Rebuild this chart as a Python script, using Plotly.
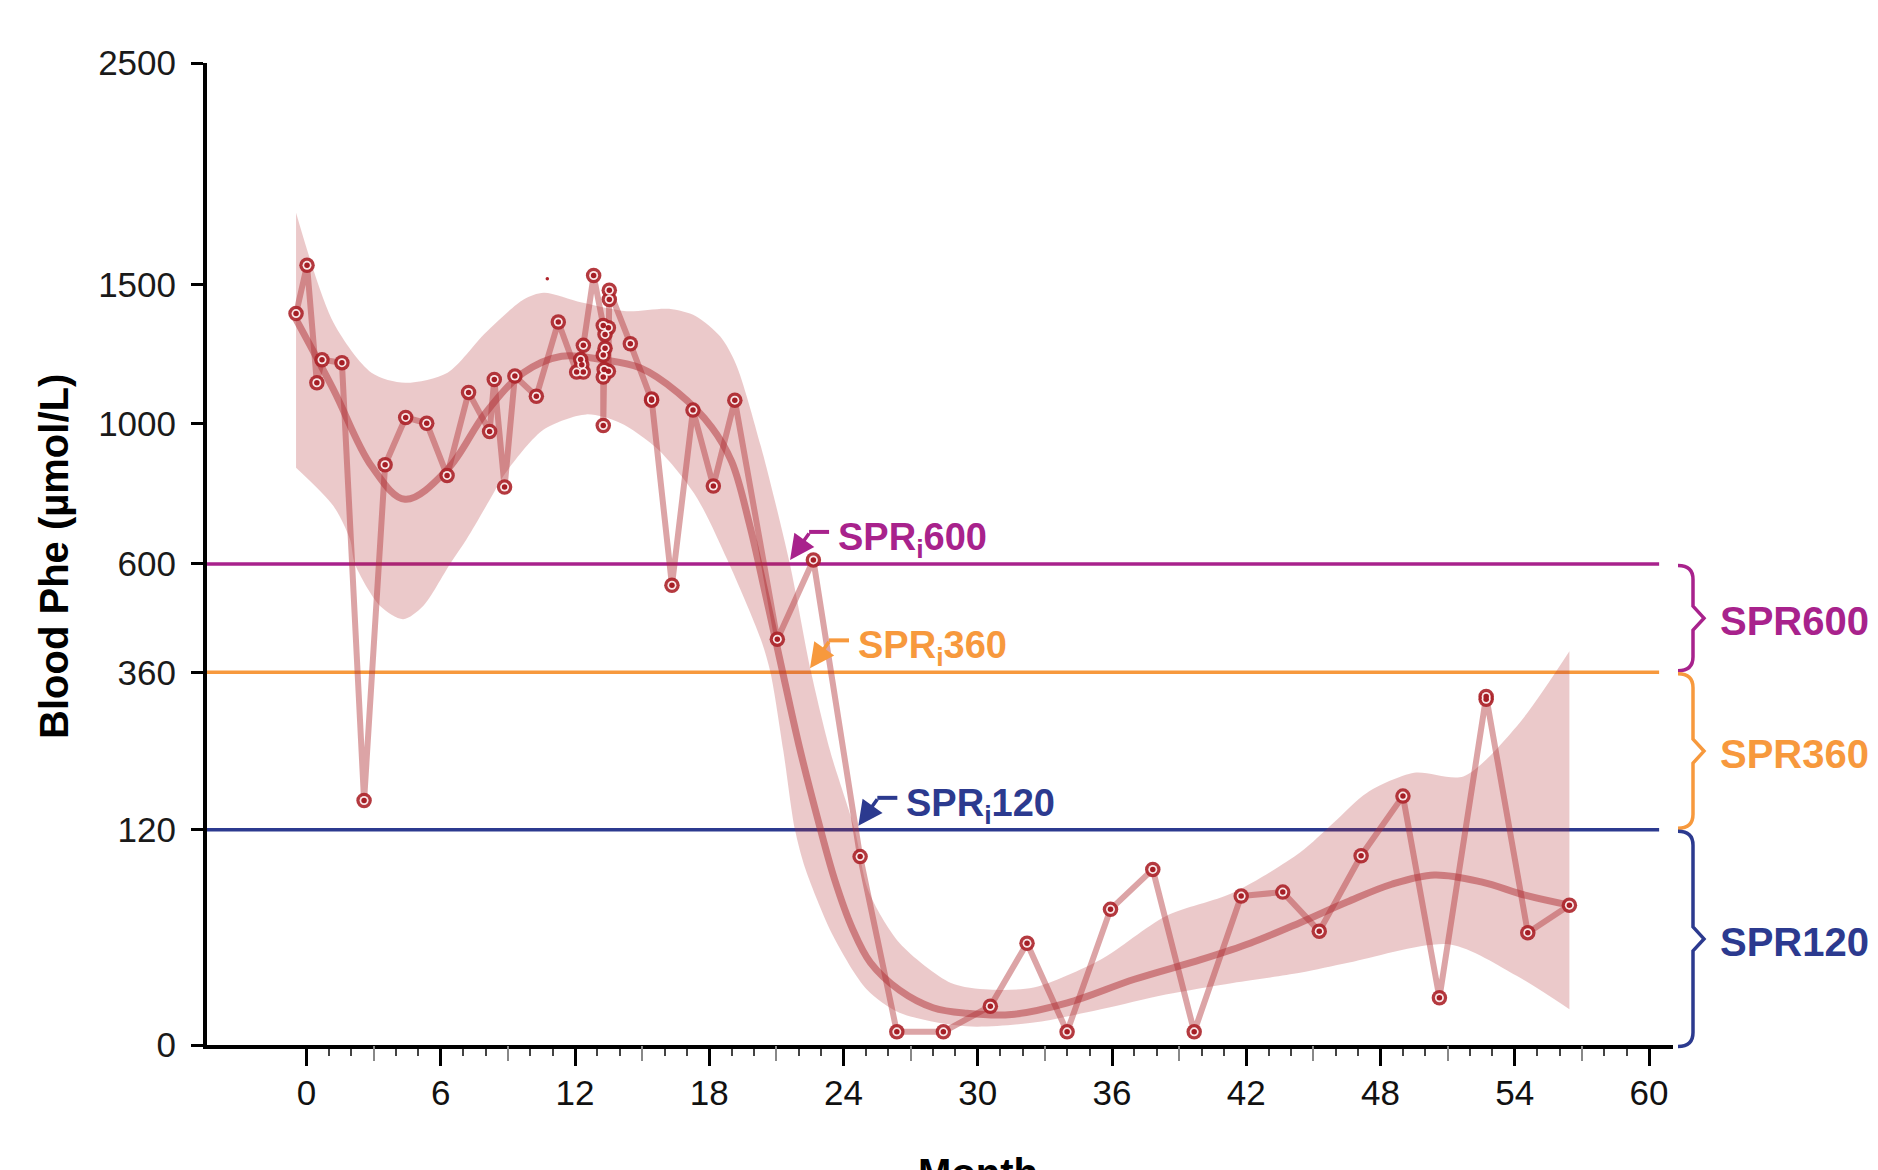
import numpy as np
import plotly.graph_objects as go

# ---------------- data ----------------
# observed blood Phe (umol/L) by month, in time order
obs_month = [-0.47, 0.02, 0.46, 0.69, 1.58, 2.57, 3.51, 4.43, 5.37, 6.28,
             7.24, 8.18, 8.39, 8.85, 9.31, 10.27, 11.25,
             12.07, 12.37, 12.30, 12.25, 12.37, 12.83,
             13.26, 13.26, 13.26, 13.26, 13.30, 13.34, 13.34, 13.49, 13.49, 13.53, 13.53,
             14.47, 15.42, 15.42, 16.33, 17.27, 18.18, 19.14, 21.04, 22.65, 24.74,
             26.38, 28.46, 30.56, 32.20, 33.99, 35.93, 37.82, 39.67, 41.77, 43.63,
             45.26, 47.13, 49.00, 50.63, 52.72, 52.72, 54.58, 56.44]
obs_phe = [1387, 1576, 1137, 1217, 1207, 155, 873, 1021, 1002, 841,
           1104, 976, 1148, 807, 1160, 1091, 1355,
           1174, 1174, 1200, 1218, 1269, 1535,
           1342, 1234, 1157, 995, 1183, 1259, 1309, 1334, 1177, 1441, 1477,
           1275, 1078, 1082, 548, 1045, 810, 1078, 427, 610, 92,
           0.45, 0.45, 3.9, 26.8, 0.45, 47.7, 79.9, 0.45, 57.5, 60.6,
           33.6, 92.9, 160.6, 5.8, 310, 315, 32.7, 50.7]

stray_month = [10.76]
stray_phe = [1522]

# smoothed trend
trend_month = [-0.47, 1.2, 2.9, 4.4, 6.3, 8.0, 9.7, 11.4, 13.2, 14.9, 16.6, 18.1,
               19.0, 19.8, 20.5, 21.2, 22.0, 22.8, 23.6, 24.4, 25.2, 26.5, 28.0,
               29.5, 31.5, 34.0, 37.0, 40.0, 42.2, 44.4, 46.5, 48.5, 50.4, 52.5,
               54.5, 56.44]
trend_phe = [1365, 1114, 869, 772, 859, 1036, 1172, 1230, 1218, 1189, 1103, 990,
             882, 702, 529, 376, 234, 137, 71, 35, 17.6, 7.8, 3.6,
             2.6, 2.4, 4.6, 11.2, 19, 27, 38.8, 53, 67, 75, 69,
             58, 50.7]

# confidence band
ci_upper_month = [-0.47, 1.2, 2.9, 4.4, 6.3, 8.0, 9.7, 10.6, 12.3, 14.3, 16.2, 17.4,
                  18.5, 19.2, 20.3, 21.6, 22.55, 23.4, 24.5, 25.1, 26.5, 28.8, 30.5,
                  32.5, 35.5, 38.4, 41.4, 44.4, 45.9, 47.4, 49.5, 51.7, 54.1, 56.44]
ci_upper_phe = [1796, 1353, 1172, 1137, 1172, 1315, 1441, 1467, 1429, 1396, 1405, 1377,
                1300, 1200, 930, 600, 360, 224, 120, 62, 27, 10, 8,
                8.6, 19, 43, 60, 96, 128, 165, 192, 187, 264, 402]
ci_lower_month = [-0.47, 1.2, 1.94, 2.16, 3.3, 4.32, 5.2, 6.41, 7.15, 8.2, 8.9, 10.6,
                  12.5, 14.0, 15.7, 17.4, 18.8, 20.3, 20.73, 21.31, 21.83, 22.3, 23.54,
                  25.04, 26.5, 29.5, 32.5, 35.5, 38.4, 41.4, 44.4, 46.6, 51.1, 54.1, 56.44]
ci_lower_phe = [864, 753, 663, 600, 499, 470, 499, 600, 663, 772, 849, 982,
                1031, 1004, 920, 781, 611, 427, 360, 224, 120, 80, 30.7,
                8, 2.7, 0.9, 1.3, 3.3, 6.6, 10, 13.5, 17.6, 26.2, 12.3, 3.3]

# thresholds
threshold_value = [600, 360, 120]
threshold_name = ["SPR600", "SPR360", "SPR120"]
threshold_color = ["#a8228c", "#f7993d", "#2c3a8f"]
crossing_month = [21.61, 22.5, 24.66]
crossing_label = ["SPR<sub>i</sub>600", "SPR<sub>i</sub>360", "SPR<sub>i</sub>120"]
band_lower = [360, 120, 0]

y_tick_values = [0, 120, 360, 600, 1000, 1500, 2500]
y_tick_text = ["0", "120", "360", "600", "1000", "1500", "2500"]
x_tick_values = list(range(0, 61, 6))
x_minor_values = [m for m in range(0, 61) if m % 3 != 0]
x_mid_values = [m for m in range(3, 61, 6)]


def s(v):
    return np.sqrt(np.asarray(v, dtype=float))


FONT = "Liberation Sans, Arial, Helvetica, sans-serif"
RED = "176,48,52"
W, H = 1878, 1170
ML, MR, MT, MB = 207, 205, 63, 125
PW, PH = W - ML - MR, H - MT - MB
XR = [-4.45, 61.07]
YMAX = float(s(2500))

fig = go.Figure()

# CI band
fig.add_trace(go.Scatter(x=ci_lower_month, y=s(ci_lower_phe), mode="lines",
                         line=dict(width=0, shape="spline", smoothing=0.8),
                         hoverinfo="skip", showlegend=False))
fig.add_trace(go.Scatter(x=ci_upper_month, y=s(ci_upper_phe), mode="lines",
                         line=dict(width=0, shape="spline", smoothing=0.8),
                         fill="tonexty", fillcolor=f"rgba({RED},0.26)",
                         hoverinfo="skip", showlegend=False))
# trend
fig.add_trace(go.Scatter(x=trend_month, y=s(trend_phe), mode="lines",
                         line=dict(width=7, shape="spline", smoothing=1.0,
                                   color=f"rgba({RED},0.5)"),
                         hoverinfo="skip", showlegend=False))
# observed line
fig.add_trace(go.Scatter(x=obs_month, y=s(obs_phe), mode="lines",
                         line=dict(width=6, color=f"rgba({RED},0.44)"),
                         hoverinfo="skip", showlegend=False))
# markers (ring + white + dot)
fig.add_trace(go.Scatter(x=obs_month, y=s(obs_phe), mode="markers",
                         marker=dict(size=15.5, color="rgba(172,36,42,0.9)", line=dict(width=0)),
                         hoverinfo="skip", showlegend=False))
fig.add_trace(go.Scatter(x=obs_month, y=s(obs_phe), mode="markers",
                         marker=dict(size=9, color="rgba(255,246,246,0.92)", line=dict(width=0)),
                         hoverinfo="skip", showlegend=False))
fig.add_trace(go.Scatter(x=obs_month, y=s(obs_phe), mode="markers",
                         marker=dict(size=5.5, color="#a51e25", line=dict(width=0)),
                         hoverinfo="skip", showlegend=False))
fig.add_trace(go.Scatter(x=stray_month, y=s(stray_phe), mode="markers",
                         marker=dict(size=3.5, color="#b0242b", line=dict(width=0)),
                         hoverinfo="skip", showlegend=False))
# helper trace for overlay axis (3-month ticks)
fig.add_trace(go.Scatter(x=[None], y=[None], xaxis="x2", yaxis="y",
                         showlegend=False, hoverinfo="skip"))

shapes = []
annotations = []


def py(v):
    return float(s(v)) / YMAX


def px_x(X):
    return (X - ML) / PW


for val, name, col, cm, lab, low in zip(threshold_value, threshold_name, threshold_color,
                                        crossing_month, crossing_label, band_lower):
    # threshold line
    shapes.append(dict(type="line", xref="x", yref="y", x0=XR[0], x1=60.45,
                       y0=float(s(val)), y1=float(s(val)),
                       line=dict(color=col, width=3.5), layer="below"))
    # kinked arrow: tail segment
    shapes.append(dict(type="line", xref="x", yref="y", xsizemode="pixel", ysizemode="pixel",
                       xanchor=cm, yanchor=float(s(val)), x0=19, x1=39, y0=32, y1=32,
                       line=dict(color=col, width=4), layer="above"))
    annotations.append(dict(x=cm, y=float(s(val)), xref="x", yref="y", text="",
                            showarrow=True, ax=20, ay=-28, axref="pixel", ayref="pixel",
                            arrowhead=2, arrowsize=1.4, arrowwidth=3.5, arrowcolor=col,
                            standoff=0, yshift=4))
    annotations.append(dict(x=cm, y=float(s(val)), xref="x", yref="y", text=lab,
                            showarrow=False, xanchor="left", yanchor="middle",
                            xshift=46, yshift=24,
                            font=dict(family=FONT, size=38, color=col, weight="bold")))
    # brace on the right
    yt = py(val) - 1.5 / PH
    yb = py(low) + 1.5 / PH if low > 0 else -1.5 / PH
    ym = (yt + yb) / 2
    x0, x1, x2 = px_x(1678), px_x(1693), px_x(1704)
    r = 14 / PH
    h = 12 / PH
    path = (f"M {x0},{yt} Q {x1},{yt} {x1},{yt - r} L {x1},{ym + h} L {x2},{ym} "
            f"L {x1},{ym - h} L {x1},{yb + r} Q {x1},{yb} {x0},{yb}")
    shapes.append(dict(type="path", xref="paper", yref="paper", path=path,
                       line=dict(color=col, width=3.5)))
    annotations.append(dict(x=px_x(1718), y=ym, xref="paper", yref="paper", text=name,
                            showarrow=False, xanchor="left", yanchor="middle", yshift=-3,
                            font=dict(family=FONT, size=40, color=col, weight="bold")))

# axis titles
annotations.append(dict(x=px_x(54), y=0.497, xref="paper", yref="paper",
                        text="Blood Phe (µmol/L)", textangle=-90, showarrow=False,
                        xanchor="center", yanchor="middle",
                        font=dict(family=FONT, size=40, color="black", weight="bold")))
annotations.append(dict(x=30, y=-(1149 - (H - MB)) / PH, xref="x", yref="paper",
                        text="Month", showarrow=False, xanchor="center", yanchor="top",
                        font=dict(family=FONT, size=40, color="black", weight="bold")))

fig.update_layout(
    width=W, height=H,
    margin=dict(l=ML, r=MR, t=MT, b=MB, pad=0),
    paper_bgcolor="white", plot_bgcolor="white",
    showlegend=False,
    font=dict(family=FONT, size=35, color="#1a1a1a"),
    shapes=shapes, annotations=annotations,
    xaxis=dict(range=XR, tickmode="array", tickvals=x_tick_values,
               ticktext=[str(v) for v in x_tick_values],
               ticks="outside", ticklen=17, tickwidth=3, tickcolor="black",
               showline=True, linecolor="black", linewidth=4,
               showgrid=False, zeroline=False, ticklabelstandoff=-3,
               tickfont=dict(family=FONT, size=35, color="#111"),
               minor=dict(tickmode="array", tickvals=x_minor_values, ticks="outside",
                          ticklen=7, tickwidth=2, tickcolor="#444", showgrid=False)),
    xaxis2=dict(range=XR, overlaying="x", anchor="y", side="bottom",
                tickmode="array", tickvals=x_mid_values, ticks="outside",
                ticklen=15, tickwidth=2, tickcolor="#888888", showticklabels=False,
                showline=False, showgrid=False, zeroline=False),
    yaxis=dict(range=[0, YMAX], tickmode="array", tickvals=list(s(y_tick_values)),
               ticktext=y_tick_text, ticks="outside", ticklen=12, tickwidth=3,
               tickcolor="black", showline=True, linecolor="black", linewidth=4,
               showgrid=False, zeroline=False, ticklabelstandoff=8,
               tickfont=dict(family=FONT, size=35, color="#1a1a1a")),
)

fig.write_html("out.html", config={"displayModeBar": False},
               post_script="document.body.style.margin='0';document.body.style.overflow='hidden';")
